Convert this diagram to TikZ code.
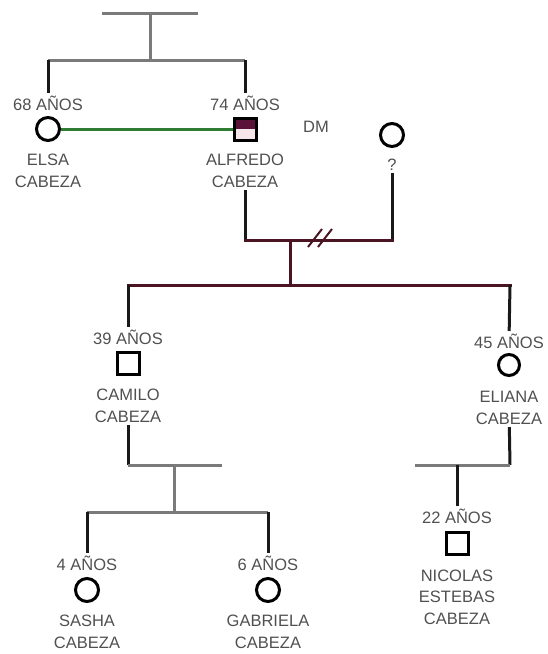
\documentclass[tikz,border=0pt]{standalone}
\usepackage{fontspec}
\setmainfont{Liberation Sans}
\usepackage{xcolor}
\usepackage{tikz}
\usetikzlibrary{positioning}
\definecolor{txtgris}{HTML}{505050}
\definecolor{lineagris}{HTML}{7A7A7A}
\definecolor{vinotinto}{HTML}{4A1422}
\definecolor{verdeunion}{HTML}{2E7D32}
\definecolor{alfredoarriba}{HTML}{5B1238}
\definecolor{alfredoabajo}{HTML}{F6E6EA}

\begin{document}
\begin{tikzpicture}[
    x=1pt, y=-1pt,
    mujer/.style={draw, circle, line width=3pt, minimum size=23pt, inner sep=0pt, fill=white},
    hombre/.style={draw, rectangle, line width=3pt, minimum size=22pt, inner sep=0pt, fill=white},
    lbl/.style={text=txtgris, font=\fontsize{16.5}{21.5}\selectfont, align=center, inner sep=2.5pt},
    gris/.style={draw=lineagris, line width=3pt},
    negra/.style={draw=black!90, line width=3pt},
    vino/.style={draw=vinotinto, line width=3pt},
    union/.style={draw=verdeunion, line width=3pt}
]
    \useasboundingbox (0,0) rectangle (548,654);

    % abuelos
    \node[mujer] (elsa) at (48,129) {};
    \node[lbl] (elsaA) at (48,103) {68 AÑOS};
    \node[lbl] (elsaN) at (48,171) {ELSA\\CABEZA};
    \node[hombre, path picture={
        \fill[alfredoarriba] (path picture bounding box.north west) rectangle (path picture bounding box.east);
        \fill[alfredoabajo] (path picture bounding box.west) rectangle (path picture bounding box.south east);
    }] (alfredo) at (245,129) {};
    \node[lbl] (alfredoA) at (245,103) {74 AÑOS};
    \node[lbl] (alfredoN) at (245,171) {ALFREDO\\CABEZA};
    \node[lbl] (dm) at (316,127) {DM};
    \node[mujer] (desc) at (392,135) {};
    \node[lbl] (descN) at (392,165) {?};

    \coordinate (padresL) at (102,13);
    \coordinate (padresR) at (198,13);
    \coordinate (padresM) at (150,13);
    \coordinate (hermM) at (150,60);
    \coordinate (hermL) at (48,60);
    \coordinate (hermR) at (245,60);

    \draw[gris] (padresL) -- (padresR);
    \draw[gris] (padresM) -- (hermM);
    \draw[gris] (hermL) -- (hermR);
    \draw[negra] (hermL) -- (elsaA);
    \draw[negra] (hermR) -- (alfredoA);
    \draw[union] (elsa) -- (alfredo);

    % pareja separada
    \coordinate (parejaL) at (245,240);
    \coordinate (parejaR) at (392,240);
    \coordinate (parejaM) at (290,240);
    \coordinate (corte) at (321,238);
    \coordinate (hijosM) at (290,285);
    \coordinate (hijosL) at (128,285);
    \coordinate (hijosR) at (510,285);

    \draw[negra] (alfredoN) -- (parejaL);
    \draw[negra] (descN) -- (parejaR);
    \draw[vino, line cap=rect] (parejaL) -- (parejaR);
    \draw[vino, line width=2pt] (corte) ++(-13,9) -- ++(14,-18);
    \draw[vino, line width=2pt] (corte) ++(-3,9) -- ++(14,-18);
    \draw[vino] (parejaM) -- (hijosM);
    \draw[vino, line cap=rect] (hijosL) -- (hijosR);

    % hijos
    \node[hombre] (camilo) at (128,363) {};
    \node[lbl] (camiloA) at (128,337) {39 AÑOS};
    \node[lbl] (camiloN) at (128,406) {CAMILO\\CABEZA};
    \node[mujer, minimum size=21pt] (eliana) at (509,365) {};
    \node[lbl] (elianaA) at (509,341) {45 AÑOS};
    \node[lbl] (elianaN) at (509,408) {ELIANA\\CABEZA};

    \draw[negra] (hijosL) -- (camiloA);
    \draw[negra] (hijosR) -- (elianaA);

    % nietos de camilo
    \coordinate (camiloB) at (128,465);
    \coordinate (camiloE) at (222,465);
    \coordinate (nietosM) at (174,465);
    \coordinate (nietosB) at (174,512);
    \coordinate (nietosL) at (87,512);
    \coordinate (nietosR) at (268,512);

    \node[mujer] (sasha) at (87,590) {};
    \node[lbl] (sashaA) at (87,563) {4 AÑOS};
    \node[lbl] (sashaN) at (87,632) {SASHA\\CABEZA};
    \node[mujer] (gabriela) at (268,590) {};
    \node[lbl] (gabrielaA) at (268,563) {6 AÑOS};
    \node[lbl] (gabrielaN) at (268,632) {GABRIELA\\CABEZA};

    \draw[negra] (camiloN) -- (camiloB);
    \draw[gris] (camiloB) -- (camiloE);
    \draw[gris] (nietosM) -- (nietosB);
    \draw[gris] (nietosL) -- (nietosR);
    \draw[negra] (nietosL) -- (sashaA);
    \draw[negra] (nietosR) -- (gabrielaA);

    % nieto de eliana
    \coordinate (elianaB) at (510,465);
    \coordinate (elianaE) at (415,465);
    \coordinate (bisM) at (457,465);

    \node[hombre] (nicolas) at (457,543) {};
    \node[lbl] (nicolasA) at (457,516) {22 AÑOS};
    \node[lbl] (nicolasN) at (457,597) {NICOLAS\\ESTEBAS\\CABEZA};

    \draw[negra] (elianaN) -- (elianaB);
    \draw[gris] (elianaB) -- (elianaE);
    \draw[negra] (bisM) -- (nicolasA);
\end{tikzpicture}
\end{document}
